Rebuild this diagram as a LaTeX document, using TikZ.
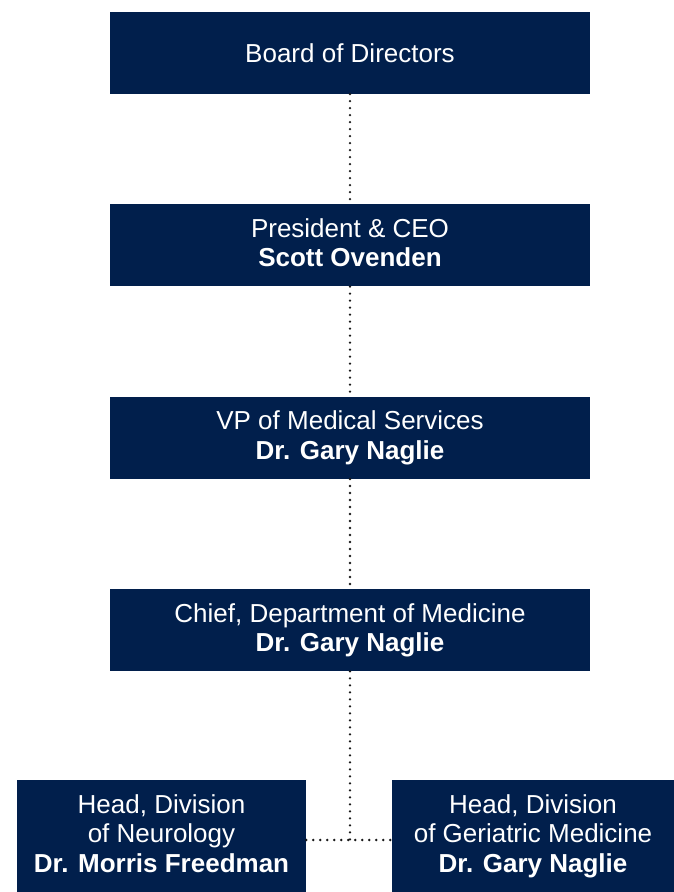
\documentclass[tikz,border=0pt]{standalone}
\usepackage{fontspec}
\setmainfont{Liberation Sans}
\usepackage{tikz}
\usepackage{xcolor}
\usetikzlibrary{positioning}

\definecolor{navy}{RGB}{1,31,76}

\begin{document}
\begin{tikzpicture}[x=1pt,y=1pt,
                    post/.style={fill=navy, text=white, align=center, inner sep=0pt,
                                 minimum width=480pt, minimum height=82pt,
                                 font=\fontsize{26}{29.5}\selectfont},
                    head/.style={post, minimum height=112pt},
                    link/.style={draw=black!90, line width=2.6pt, line cap=round,
                                 dash pattern=on 0pt off 7pt}]
                    \useasboundingbox (0,0) rectangle (674,892);
                    % chain of posts
                    \node[post] (board) at (350,839) {Board of Directors};
                    \node[post, below=110pt of board] (ceo) {President \& CEO\\\textbf{Scott Ovenden}\vphantom{g}};
                    \node[post, below=110pt of ceo] (vpmed) {VP of Medical Services\\\textbf{Dr. Gary Naglie}};
                    \node[post, below=110pt of vpmed] (chief) {Chief, Department of Medicine\\\textbf{Dr. Gary Naglie}};
                    % divisions
                    \node[head, minimum width=289pt] (neuro) at (161.5,56) {Head, Division\\of Neurology\\\textbf{Dr. Morris Freedman}\vphantom{g}};
                    \node[head, minimum width=282pt] (geri) at (533,56) {Head, Division\\of Geriatric Medicine\\\textbf{Dr. Gary Naglie}};
                    \coordinate (junc) at (chief.south |- 0,52);
                    \draw[link] (board) -- (ceo);
                    \draw[link] (ceo) -- (vpmed);
                    \draw[link] (vpmed) -- (chief);
                    \draw[link] (chief) -- (junc);
                    \draw[link] (neuro.east |- junc) -- (geri.west |- junc);
                \end{tikzpicture}
\end{document}
